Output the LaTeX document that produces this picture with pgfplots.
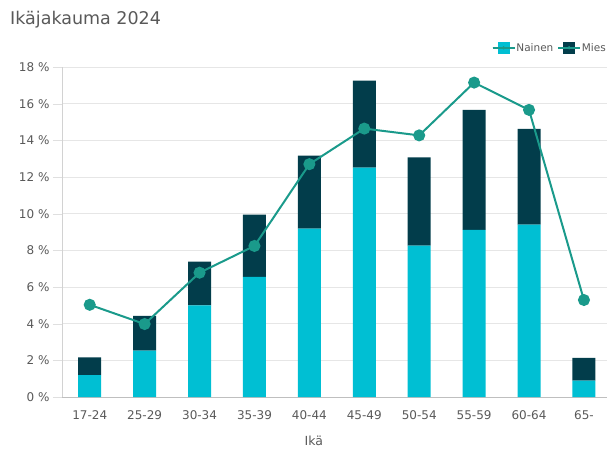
\documentclass[border=0pt]{standalone}
\usepackage{fontspec}
\setmainfont{DejaVu Sans}
\usepackage{pgfplots}
\pgfplotsset{compat=1.18}

\definecolor{nainen}{RGB}{0,191,211}
\definecolor{mies}{RGB}{2,61,75}
\definecolor{linec}{RGB}{26,154,139}
\definecolor{txt}{RGB}{89,89,89}
\definecolor{gridc}{RGB}{230,230,230}

\begin{document}
\begin{tikzpicture}
\useasboundingbox (-62pt,-58pt) rectangle (545pt,397pt);
\node[anchor=base west, inner sep=0pt, text=txt, font=\fontsize{17.5}{20}\selectfont] at (-52pt,372pt) {Ikäjakauma 2024};
\begin{axis}[
    at={(0pt,0pt)}, anchor=south west,
    scale only axis,
    width=545pt, height=330pt,
    ybar stacked,
    bar width=23pt,
    xmin=-0.505, xmax=9.42,
    ymin=0, ymax=18,
    xtick={0,...,9},
    xticklabels={17-24,25-29,30-34,35-39,40-44,45-49,50-54,55-59,60-64,65-},
    ytick={0,2,...,18},
    yticklabel={\pgfmathprintnumber{\tick} \%},
    /pgf/number format/assume math mode=true,
    axis x line*=bottom,
    axis y line*=left,
    axis line style={-, draw=gray!35},
    x axis line style={draw=gray!50},
    xtick style={draw=none},
    ytick style={draw=gray!25},
    tick align=outside,
    major tick length=9pt,
    ymajorgrids,
    grid style={draw=gridc, line width=0.8pt},
    tick label style={text=txt, font=\fontsize{12}{14}\selectfont},
    xticklabel style={yshift=-1pt},
    xlabel={Ikä},
    xlabel style={text=txt, font=\fontsize{12.5}{14}\selectfont, at={(axis description cs:0.462,0)}, anchor=north, yshift=-35pt},
    legend columns=2,
    legend style={at={(1,1)}, anchor=south east, xshift=0pt, yshift=13pt, draw=none, fill=none,
        font=\fontsize{10.5}{12}\selectfont, text=txt,
        /tikz/every even column/.append style={column sep=3pt},
        inner sep=0pt, nodes={inner sep=1pt}},
]
\addplot[fill=nainen, draw=none,
    legend image code/.code={
        \fill[nainen] (5pt,-6pt) rectangle (17pt,6pt);
        \draw[linec, line width=1.5pt] (0pt,0pt) -- (22pt,0pt);
        \fill[linec] (11pt,0pt) circle (1.8pt);}]
    coordinates {(0,1.20) (1,2.53) (2,5.00) (3,6.55) (4,9.18) (5,12.51) (6,8.25) (7,9.11) (8,9.40) (9,0.90)};
\addlegendentry{Nainen}
\addplot[fill=mies, draw=none,
    legend image code/.code={
        \fill[mies] (5pt,-6pt) rectangle (17pt,6pt);
        \draw[linec, line width=1.5pt] (0pt,0pt) -- (22pt,0pt);
        \fill[linec] (11pt,0pt) circle (1.8pt);}]
    coordinates {(0,0.96) (1,1.89) (2,2.38) (3,3.40) (4,3.99) (5,4.75) (6,4.82) (7,6.55) (8,5.22) (9,1.24)};
\addlegendentry{Mies}
\end{axis}
\begin{axis}[
    at={(0pt,0pt)}, anchor=south west,
    scale only axis,
    width=545pt, height=330pt,
    xmin=-0.505, xmax=9.42,
    ymin=0, ymax=18,
    hide axis,
    clip=false,
]
\addplot[sharp plot, draw=linec, line width=2pt,
    mark=*, mark size=5pt, mark options={fill=linec, draw=linec}]
    coordinates {(0,5.03) (1,3.98) (2,6.78) (3,8.24) (4,12.70) (5,14.64) (6,14.27) (7,17.15) (8,15.66) (9,5.29)};
\end{axis}
\end{tikzpicture}
\end{document}
